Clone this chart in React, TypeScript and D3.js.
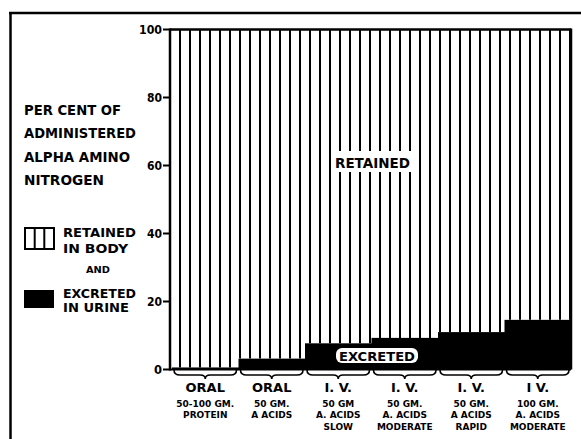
import React from "react";
import * as d3 from "d3";

const groupLine1 = ["ORAL", "ORAL", "I. V.", "I. V.", "I. V.", "I  V."];
const groupLine2 = ["50-100 GM.", "50 GM.", "50 GM", "50 GM.", "50 GM.", "100 GM."];
const groupLine3 = ["PROTEIN", "A ACIDS", "A. ACIDS", "A. ACIDS", "A ACIDS", "A. ACIDS"];
const groupLine4 = ["", "", "SLOW", "MODERATE", "RAPID", "MODERATE"];
const excreted = [0.6, 3.2, 7.7, 9.3, 11.0, 14.6];
const yTicks = [0, 20, 40, 60, 80, 100];
const leftTitle = ["PER CENT OF", "ADMINISTERED", "ALPHA AMINO", "NITROGEN"];

const W = 581;
const H = 439;
const plotLeft = 170;
const plotRight = 571;
const y = d3.scaleLinear().domain([0, 100]).range([369.5, 29.5]);
const x = d3.scaleBand<number>().domain(d3.range(groupLine1.length)).range([172, 571]).padding(0);
const stripeX = d3.range(plotLeft + 10, plotRight, 10);

const FONT = "'DejaVu Sans', 'Liberation Sans', sans-serif";

function bracePath(x0: number, x1: number, top: number) {
  const m = (x0 + x1) / 2;
  const a = x0 + 2, b = x1 - 2;
  const mid = top + 5;
  const bot = top + 9;
  return `M${a},${top} Q${a},${mid} ${a + 6},${mid} L${m - 5},${mid} Q${m},${mid} ${m},${bot} Q${m},${mid} ${m + 5},${mid} L${b - 6},${mid} Q${b},${mid} ${b},${top}`;
}

export default function App() {
  const bw = x.bandwidth();
  return (
    <svg width={W} height={H} style={{ display: "block", position: "absolute", left: 0, top: 0, background: "#fff" }}>
      <rect x={0} y={0} width={W} height={H} fill="#fff" />
      {/* outer frame */}
      <line x1={9} y1={13} x2={W} y2={13} stroke="#000" strokeWidth={2.5} />
      <line x1={10.5} y1={12} x2={10.5} y2={H} stroke="#000" strokeWidth={2.5} />

      {/* left title */}
      {leftTitle.map((t, i) => (
        <text key={t} x={24} y={115 + i * 23.3} fontFamily={FONT} fontSize={14.5} fontWeight="bold"
          textLength={[97, 112, 106, 80][i]} lengthAdjust="spacingAndGlyphs">{t}</text>
      ))}

      {/* legend */}
      <rect x={25} y={228} width={29} height={21} fill="#fff" stroke="#000" strokeWidth={2} />
      <line x1={34.7} y1={228} x2={34.7} y2={249} stroke="#000" strokeWidth={2} />
      <line x1={44.3} y1={228} x2={44.3} y2={249} stroke="#000" strokeWidth={2} />
      <text x={63} y={237} fontFamily={FONT} fontSize={12} fontWeight="bold" textLength={73} lengthAdjust="spacingAndGlyphs">RETAINED</text>
      <text x={63} y={253} fontFamily={FONT} fontSize={12} fontWeight="bold" textLength={65} lengthAdjust="spacingAndGlyphs">IN BODY</text>
      <text x={86} y={273} fontFamily={FONT} fontSize={9} fontWeight="bold" textLength={24} lengthAdjust="spacingAndGlyphs">AND</text>
      <rect x={24} y={290} width={30} height={18} fill="#000" />
      <text x={63} y={298} fontFamily={FONT} fontSize={12} fontWeight="bold" textLength={73} lengthAdjust="spacingAndGlyphs">EXCRETED</text>
      <text x={63} y={312} fontFamily={FONT} fontSize={12} fontWeight="bold" textLength={66} lengthAdjust="spacingAndGlyphs">IN URINE</text>

      {/* y axis ticks */}
      {yTicks.map((t) => (
        <g key={t}>
          <line x1={163} x2={plotLeft} y1={y(t)} y2={y(t)} stroke="#000" strokeWidth={2} />
          <text x={162} y={y(t) + 4.5} textAnchor="end" fontFamily={FONT} fontSize={12} fontWeight="bold"
            textLength={t === 100 ? 23 : t === 0 ? 8 : 15} lengthAdjust="spacingAndGlyphs">{t}</text>
        </g>
      ))}

      {/* excreted bars */}
      {excreted.map((v, i) => (
        <rect key={i} x={x(i)!} y={y(v)} width={bw + (i === excreted.length - 1 ? 0 : 0.5)} height={y(0) - y(v)} fill="#000" />
      ))}

      {/* retained stripes */}
      {stripeX.map((sx) => {
        const gi = Math.min(excreted.length - 1, Math.max(0, Math.floor((sx - 172) / bw)));
        return <line key={sx} x1={sx} x2={sx} y1={y(100)} y2={y(excreted[gi])} stroke="#000" strokeWidth={2} />;
      })}

      {/* plot frame */}
      <line x1={plotLeft} y1={y(100)} x2={plotRight} y2={y(100)} stroke="#000" strokeWidth={2.5} />
      <line x1={plotLeft} y1={y(100) - 1} x2={plotLeft} y2={y(0) + 1} stroke="#000" strokeWidth={2.5} />
      <line x1={plotRight} y1={y(100) - 1} x2={plotRight} y2={y(0)} stroke="#000" strokeWidth={2.5} />
      <line x1={plotLeft} y1={y(0)} x2={plotRight} y2={y(0)} stroke="#000" strokeWidth={2} />

      {/* RETAINED label */}
      <rect x={332} y={151} width={81} height={21} fill="#fff" />
      <text x={372.5} y={168} textAnchor="middle" fontFamily={FONT} fontSize={14.5} fontWeight="bold"
        textLength={75} lengthAdjust="spacingAndGlyphs">RETAINED</text>

      {/* EXCRETED label */}
      <rect x={336} y={348} width={82} height={15} rx={6} fill="#fff" />
      <text x={377} y={361} textAnchor="middle" fontFamily={FONT} fontSize={13} fontWeight="bold"
        textLength={76} lengthAdjust="spacingAndGlyphs">EXCRETED</text>

      {/* braces & group labels */}
      {groupLine1.map((l1, i) => {
        const x0 = x(i)!;
        const cx = x0 + bw / 2;
        return (
          <g key={i}>
            <path d={bracePath(x0, x0 + bw, 370)} fill="none" stroke="#000" strokeWidth={1.6} />
            <text x={cx} y={392} textAnchor="middle" fontFamily={FONT} fontSize={13} fontWeight="bold">{l1}</text>
            <text x={cx} y={407} textAnchor="middle" fontFamily={FONT} fontSize={9} fontWeight="bold">{groupLine2[i]}</text>
            <text x={cx} y={417.5} textAnchor="middle" fontFamily={FONT} fontSize={9} fontWeight="bold">{groupLine3[i]}</text>
            {groupLine4[i] && (
              <text x={cx} y={430} textAnchor="middle" fontFamily={FONT} fontSize={9} fontWeight="bold">{groupLine4[i]}</text>
            )}
          </g>
        );
      })}
    </svg>
  );
}
